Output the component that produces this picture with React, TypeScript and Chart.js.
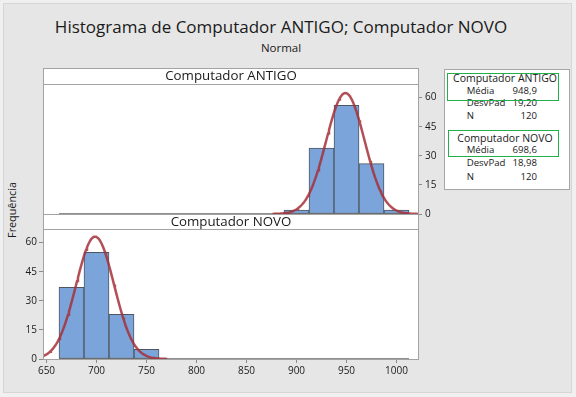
import React, { useEffect, useRef } from 'react';
import { Chart, registerables } from 'chart.js';

Chart.register(...registerables);

const FONT = '"Open Sans", "Noto Sans", sans-serif';

// ---- data ----
const binCenters = [675, 700, 725, 750, 775, 800, 825, 850, 875, 900, 925, 950, 975, 1000];
const binWidth = 25;
const countsAntigo = [0, 0, 0, 0, 0, 0, 0, 0, 0, 2, 34, 56, 26, 2];
const countsNovo = [37, 55, 23, 5, 0, 0, 0, 0, 0, 0, 0, 0, 0, 0];
const xTicks = [650, 700, 750, 800, 850, 900, 950, 1000];
const yTicks = [0, 15, 30, 45, 60];
const seriesNames = ['Computador ANTIGO', 'Computador NOVO'];
const means = [948.9, 698.6];
const stdDevs = [19.2, 18.98];
const sampleSizes = [120, 120];
const xMin = 646.5;
const xMax = 1021.5;
const yMax = 67;

const fmt = (v: number, d: number) => v.toFixed(d).replace('.', ',');

// fitted normal curve scaled to counts (from the stated mean / StDev / N)
function normalCurve(idx: number) {
  const mean = means[idx];
  const sd = stdDevs[idx];
  const n = sampleSizes[idx];
  const lo = mean - 3.8 * sd;
  const hi = mean + 3.8 * sd;
  const pts: { x: number; y: number }[] = [];
  const steps = 160;
  for (let i = 0; i <= steps; i++) {
    const x = lo + ((hi - lo) * i) / steps;
    const z = (x - mean) / sd;
    pts.push({ x, y: ((n * binWidth) / (sd * Math.sqrt(2 * Math.PI))) * Math.exp(-0.5 * z * z) });
  }
  return pts;
}

const framePlugin = {
  id: 'panelFrame',
  beforeDraw(chart: any) {
    const { ctx, chartArea: a } = chart;
    ctx.save();
    ctx.fillStyle = '#ffffff';
    ctx.fillRect(a.left, a.top, a.right - a.left, a.bottom - a.top);
    ctx.restore();
  },
  afterDraw(chart: any) {
    const { ctx, chartArea: a } = chart;
    ctx.save();
    ctx.strokeStyle = '#a3a3a3';
    ctx.lineWidth = 1;
    ctx.strokeRect(a.left + 0.5, a.top + 0.5, a.right - a.left, a.bottom - a.top);
    ctx.restore();
  },
};

function makeConfig(counts: number[], idx: number, isTop: boolean): any {
  const bars = binCenters.map((x, i) => ({ x, y: counts[i] })).filter((p) => p.y > 0);
  const baseline = [
    { x: binCenters[0] - binWidth / 2, y: 0 },
    { x: binCenters[binCenters.length - 1] + binWidth / 2, y: 0 },
  ];
  const tickFont = { family: FONT, size: 10 };
  return {
    type: 'bar',
    data: {
      datasets: [
        {
          type: 'line',
          data: normalCurve(idx),
          borderColor: 'rgba(165,48,58,0.85)',
          borderWidth: 2.5,
          pointRadius: 0,
          tension: 0,
          order: 0,
        },
        {
          type: 'bar',
          data: bars,
          backgroundColor: '#7ba5da',
          borderColor: '#4e565f',
          borderWidth: 1,
          borderSkipped: false,
          barPercentage: 1,
          categoryPercentage: 1,
          order: 1,
        },
        {
          type: 'line',
          data: baseline,
          borderColor: '#6a6a6a',
          borderWidth: 1.5,
          pointRadius: 0,
          order: 2,
        },
      ],
    },
    options: {
      animation: false,
      responsive: false,
      maintainAspectRatio: false,
      events: [],
      layout: {
        padding: isTop
          ? { top: 10, bottom: 10, left: 43, right: 0 }
          : { top: 10, bottom: 0, left: 0, right: 42 },
      },
      plugins: { legend: { display: false }, tooltip: { enabled: false }, title: { display: false } },
      scales: {
        x: {
          type: 'linear',
          min: xMin,
          max: xMax,
          offset: false,
          display: !isTop,
          grid: { display: true, offset: false, drawOnChartArea: false, drawTicks: true, tickLength: 4, color: '#8c8c8c' },
          border: { display: false },
          ticks: {
            font: tickFont,
            color: '#1a1a1a',
            padding: 2,
            maxRotation: 0,
            autoSkip: false,
            callback: (v: number) => String(v),
          },
          afterBuildTicks: (s: any) => {
            s.ticks = xTicks.map((v) => ({ value: v }));
          },
          afterFit: (s: any) => {
            s.height = isTop ? 0 : 38;
          },
        },
        y: {
          type: 'linear',
          position: isTop ? 'right' : 'left',
          min: 0,
          max: yMax,
          grid: { display: true, drawOnChartArea: false, drawTicks: true, tickLength: 4, color: '#8c8c8c' },
          border: { display: false },
          ticks: {
            font: tickFont,
            color: '#1a1a1a',
            padding: isTop ? 3 : 2,
            callback: (v: number) => String(v),
          },
          afterBuildTicks: (s: any) => {
            s.ticks = yTicks.map((v) => ({ value: v }));
          },
          afterFit: (s: any) => {
            s.width = isTop ? 42 : 43;
          },
        },
      },
    },
    plugins: [framePlugin],
  };
}

const abs = (o: React.CSSProperties): React.CSSProperties => ({ position: 'absolute', ...o });

const ROW_FS = 9.6;
const HEAD_FS = 10.5;

function LegendLine({ label, value, cy }: { label: string; value: string; cy: number }) {
  const top = cy - 0.531 * ROW_FS;
  return (
    <>
      <div style={abs({ left: 466.7, top, fontSize: ROW_FS, lineHeight: `${ROW_FS}px`, whiteSpace: 'nowrap' })}>{label}</div>
      <div style={abs({ left: 487, width: 50, top, fontSize: ROW_FS, lineHeight: `${ROW_FS}px`, textAlign: 'right', whiteSpace: 'nowrap' })}>{value}</div>
    </>
  );
}

function LegendTitle({ text, cy }: { text: string; cy: number }) {
  return (
    <div style={abs({ left: 445, width: 120, top: cy - 0.531 * HEAD_FS, fontSize: HEAD_FS, lineHeight: `${HEAD_FS}px`, textAlign: 'center', whiteSpace: 'nowrap' })}>
      {text}
    </div>
  );
}

export default function App() {
  const topRef = useRef<HTMLCanvasElement>(null);
  const botRef = useRef<HTMLCanvasElement>(null);

  useEffect(() => {
    const c1 = new Chart(topRef.current as HTMLCanvasElement, makeConfig(countsAntigo, 0, true));
    const c2 = new Chart(botRef.current as HTMLCanvasElement, makeConfig(countsNovo, 1, false));
    return () => {
      c1.destroy();
      c2.destroy();
    };
  }, []);

  const stripText = (text: string) => (
    <div style={abs({ left: 0, right: 0, top: 0, textAlign: 'center', fontSize: 13.3, lineHeight: '13.3px', whiteSpace: 'nowrap' })}>{text}</div>
  );

  return (
    <div style={abs({ left: 0, top: 0, width: 576, height: 397, background: '#f0f0f0', overflow: 'hidden', fontFamily: FONT, color: '#1a1a1a' })}>
      <div style={abs({ left: 3, top: 3, width: 569, height: 390, boxSizing: 'border-box', border: '1px solid #d6d6d6', background: '#e6e6e6' })} />

      <div style={abs({ left: 0, width: 562, top: 17.5, textAlign: 'center', fontSize: 17, lineHeight: '17px', whiteSpace: 'nowrap' })}>
        Histograma de Computador ANTIGO; Computador NOVO
      </div>
      <div style={abs({ left: 0, width: 562, top: 42, textAlign: 'center', fontSize: 11.5, lineHeight: '11.5px', whiteSpace: 'nowrap' })}>
        Normal
      </div>

      <div style={abs({ left: 11.7, top: 210, transform: 'translate(-50%,-50%) rotate(-90deg)', fontSize: 10.8, lineHeight: '12px', whiteSpace: 'nowrap' })}>
        Frequência
      </div>

      <canvas ref={topRef} width={460} height={150} style={abs({ left: 0, top: 74, width: 460, height: 150 })} />
      <canvas ref={botRef} width={460} height={178} style={abs({ left: 0, top: 219, width: 460, height: 178 })} />

      <div style={abs({ left: 43, top: 68, width: 376, height: 17, boxSizing: 'border-box', border: '1px solid #a3a3a3', background: '#fff' })}>
        {stripText(seriesNames[0])}
      </div>
      <div style={abs({ left: 43, top: 214, width: 376, height: 16, boxSizing: 'border-box', border: '1px solid #a3a3a3', background: '#fff' })}>
        {stripText(seriesNames[1])}
      </div>

      <div style={abs({ left: 444, top: 69, width: 126, height: 121, boxSizing: 'border-box', border: '1px solid #a6a6a6', background: '#fff' })} />
      <LegendTitle text={seriesNames[0]} cy={78.5} />
      <LegendLine label="Média" value={fmt(means[0], 1)} cy={91} />
      <LegendLine label="DesvPad" value={fmt(stdDevs[0], 2)} cy={103.5} />
      <LegendLine label="N" value={String(sampleSizes[0])} cy={116} />
      <LegendTitle text={seriesNames[1]} cy={138.5} />
      <LegendLine label="Média" value={fmt(means[1], 1)} cy={150.5} />
      <LegendLine label="DesvPad" value={fmt(stdDevs[1], 2)} cy={163} />
      <LegendLine label="N" value={String(sampleSizes[1])} cy={177.5} />

      <div style={abs({ left: 447, top: 73, width: 112, height: 28, boxSizing: 'border-box', border: '1.5px solid #22b04b' })} />
      <div style={abs({ left: 448, top: 130, width: 111, height: 27, boxSizing: 'border-box', border: '1.5px solid #22b04b' })} />
    </div>
  );
}
